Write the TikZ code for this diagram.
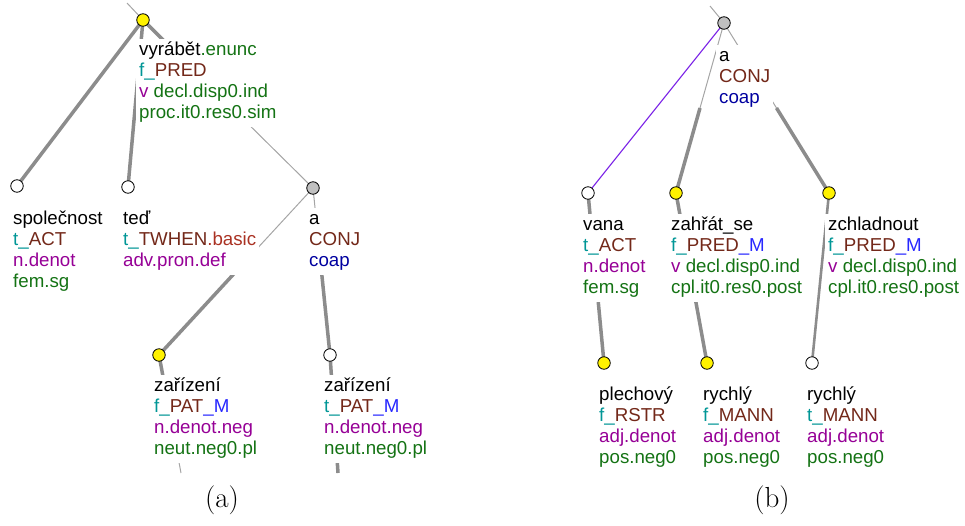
\documentclass[tikz,border=0pt]{standalone}
\usepackage{fontspec}
\newfontfamily\arialf{Liberation Sans}
\usetikzlibrary{calc}
\pgfdeclarelayer{edges}
\pgfsetlayers{edges,main}
\definecolor{cteal}{RGB}{0,150,150}
\definecolor{cbrown}{RGB}{115,40,25}
\definecolor{cbasic}{RGB}{170,50,35}
\definecolor{cblue}{RGB}{40,40,255}
\definecolor{cpurple}{RGB}{150,0,150}
\definecolor{cgreen}{RGB}{20,115,20}
\definecolor{cnavy}{RGB}{0,0,160}
\definecolor{cedge}{RGB}{140,140,140}
\definecolor{cthin}{RGB}{165,165,165}
\definecolor{cviolet}{RGB}{120,30,230}
\definecolor{cgraynode}{RGB}{192,192,192}
\newcommand\Tc[1]{\textcolor{cteal}{#1}}
\newcommand\Bc[1]{\textcolor{cbrown}{#1}}
\newcommand\Rc[1]{\textcolor{cbasic}{#1}}
\newcommand\Uc[1]{\textcolor{cblue}{#1}}
\newcommand\Pc[1]{\textcolor{cpurple}{#1}}
\newcommand\Gc[1]{\textcolor{cgreen}{#1}}
\newcommand\Nc[1]{\textcolor{cnavy}{#1}}
\newcommand\halfedge[4]{%
  \draw[#3] (#1.center) -- ($(#1.center)!0.5!(#2.center)$);
  \draw[#4] ($(#1.center)!0.5!(#2.center)$) -- (#2.center);}
\begin{document}
\begin{tikzpicture}[x=1pt,y=-1pt,
  tn/.style={circle,draw=black,line width=0.8pt,minimum size=12.5pt,inner sep=0pt},
  yel/.style={tn,fill=yellow},
  wht/.style={tn,fill=white},
  gry/.style={tn,fill=cgraynode},
  lab/.style={anchor=north west,align=left,fill=white,inner ysep=2pt,inner xsep=3pt,
    font=\arialf\fontsize{18.7}{21}\selectfont},
  captxt/.style={anchor=base,font=\fontsize{29}{34}\selectfont},
  thk/.style={draw=cedge,line width=3.5pt},
  thn/.style={draw=cthin,line width=1pt},
  vio/.style={draw=cviolet,line width=1.1pt}]
\useasboundingbox (0,0) rectangle (965,525);

% ---------- (a) ----------
\node[yel] (top) at (143,20) {};
\node[wht] (spol) at (17,186) {};
\node[wht] (ted) at (128,187) {};
\node[gry] (conjA) at (313,188) {};
\node[yel] (zarL) at (159,355) {};
\node[wht] (zarR) at (330,355) {};
\coordinate (parA) at (127,3);
\coordinate (offL) at (181,473);
\coordinate (offR) at (338,473);

% ---------- (b) ----------
\node[gry] (conjB) at (724,23) {};
\node[wht] (vana) at (588,193) {};
\node[yel] (zahr) at (676,193) {};
\node[yel] (zchl) at (829,193) {};
\node[yel] (plech) at (604,363) {};
\node[yel] (ryA) at (707,363) {};
\node[wht] (ryB) at (812,363) {};
\coordinate (parB) at (710,6);

\begin{pgfonlayer}{edges}
  \draw[thn] (parA) -- (top.center);
  \draw[thk] (top.center) -- (spol.center);
  \draw[thk] (top.center) -- (ted.center);
  \halfedge{top}{conjA}{thk}{thn}
  \halfedge{conjA}{zarL}{thn}{thk}
  \halfedge{conjA}{zarR}{thn}{thk}
  \draw[thk] (zarL.center) -- ($(zarL.center)!0.5!(offL)$);
  \draw[thn] ($(zarL.center)!0.5!(offL)$) -- (offL);
  \draw[thk] (zarR.center) -- (offR);

  \draw[thn] (parB) -- (conjB.center);
  \draw[vio] (conjB.center) -- (vana.center);
  \halfedge{conjB}{zahr}{thn}{thk}
  \halfedge{conjB}{zchl}{thn}{thk}
  \draw[thk] (vana.center) -- (plech.center);
  \draw[thk] (zahr.center) -- (ryA.center);
  \draw[draw=cedge,line width=2.6pt] (zchl.center) -- (ryB.center);
\end{pgfonlayer}

% labels (a)
\node[lab] (Lvyr) at (136,38.3) {\strut vyrábět\Gc{.enunc}\\\strut\Tc{f\_}\Bc{PRED}\\\strut\Pc{v} \Gc{decl.disp0.ind}\\\strut\Gc{proc.it0.res0.sim}};
\node[lab] (Lspol) at (10,207.3) {\strut společnost\\\strut\Tc{t\_}\Bc{ACT}\\\strut\Pc{n.denot}\\\strut\Gc{fem.sg}};
\node[lab] (Lted) at (120,207.3) {\strut teď\\\strut\Tc{t\_}\Bc{TWHEN}\Rc{.basic}\\\strut\Pc{adv.pron.def}};
\node[lab] (LconjA) at (306,207.3) {\strut a\\\strut\Bc{CONJ}\\\strut\Nc{coap}};
\node[lab] (LzarL) at (151,374.3) {\strut zařízení\\\strut\Tc{f\_}\Bc{PAT}\Uc{\_M}\\\strut\Pc{n.denot.neg}\\\strut\Gc{neut.neg0.pl}};
\node[lab] (LzarR) at (321,374.3) {\strut zařízení\\\strut\Tc{t\_}\Bc{PAT}\Uc{\_M}\\\strut\Pc{n.denot.neg}\\\strut\Gc{neut.neg0.pl}};
\node[captxt] (capA) at (222,507) {(a)};

% labels (b)
\node[lab] (LconjB) at (716,44.3) {\strut a\\\strut\Bc{CONJ}\\\strut\Nc{coap}};
\node[lab] (Lvana) at (580,213.3) {\strut vana\\\strut\Tc{t\_}\Bc{ACT}\\\strut\Pc{n.denot}\\\strut\Gc{fem.sg}};
\node[lab] (Lzahr) at (668,213.3) {\strut zahřát\_se\\\strut\Tc{f\_}\Bc{PRED}\Uc{\_M}\\\strut\Pc{v} \Gc{decl.disp0.ind}\\\strut\Gc{cpl.it0.res0.post}};
\node[lab] (Lzchl) at (825,213.3) {\strut zchladnout\\\strut\Tc{f\_}\Bc{PRED}\Uc{\_M}\\\strut\Pc{v} \Gc{decl.disp0.ind}\\\strut\Gc{cpl.it0.res0.post}};
\node[lab] (Lplech) at (596,383.3) {\strut plechový\\\strut\Tc{f\_}\Bc{RSTR}\\\strut\Pc{adj.denot}\\\strut\Gc{pos.neg0}};
\node[lab] (LryA) at (700,383.3) {\strut rychlý\\\strut\Tc{f\_}\Bc{MANN}\\\strut\Pc{adj.denot}\\\strut\Gc{pos.neg0}};
\node[lab] (LryB) at (804,383.3) {\strut rychlý\\\strut\Tc{t\_}\Bc{MANN}\\\strut\Pc{adj.denot}\\\strut\Gc{pos.neg0}};
\node[captxt] (capB) at (772,507) {(b)};
\end{tikzpicture}
\end{document}
